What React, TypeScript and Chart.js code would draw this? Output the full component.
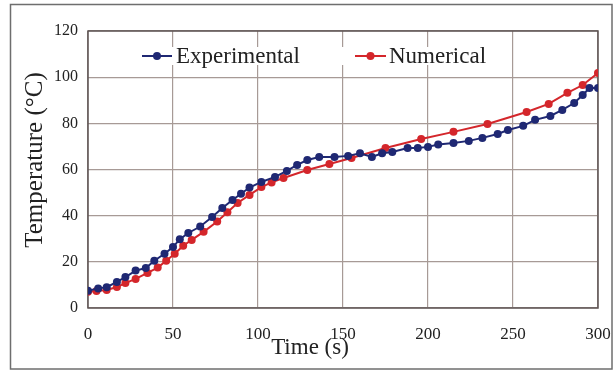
import React, { useEffect, useRef } from "react";
import { Chart, registerables } from "chart.js";

Chart.register(...registerables);

const expTime = [0, 6, 11, 17, 22, 28, 34, 39, 45, 50, 54, 59, 66, 73, 79, 85, 90, 95, 102, 110, 117, 123, 129, 136, 145, 153, 160, 167, 173, 179, 188, 194, 200, 206, 215, 224, 232, 241, 247, 256, 263, 272, 279, 286, 291, 295, 300];
const expTemp = [7.5, 8.5, 9, 11.3, 13.4, 16.2, 17.3, 20.5, 23.5, 26.4, 29.8, 32.5, 35.3, 39.4, 43.3, 46.8, 49.5, 52.2, 54.6, 56.8, 59.4, 62, 64.1, 65.4, 65.4, 65.9, 67, 65.4, 67, 67.6, 69.3, 69.3, 69.8, 70.8, 71.5, 72.4, 73.7, 75.4, 77.1, 78.9, 81.5, 83.2, 85.8, 88.8, 92.3, 95.3, 95.3];

const numTime = [0, 5, 11, 17, 22, 28, 35, 41, 46, 51, 56, 61, 68, 76, 82, 88, 95, 102, 108, 115, 129, 142, 155, 175, 196, 215, 235, 258, 271, 282, 291, 300];
const numTemp = [7, 7.4, 7.8, 9.1, 10.8, 12.6, 15.2, 17.5, 20.5, 23.5, 27, 29.5, 33, 37.5, 41.5, 45.5, 49, 52.4, 54.4, 56.3, 59.8, 62.4, 65, 69.3, 73.2, 76.3, 79.7, 84.9, 88.4, 93.2, 96.6, 101.8];

const xTickValues = [0, 50, 100, 150, 200, 250, 300];
const yTickValues = [0, 20, 40, 60, 80, 100, 120];

const seriesNames = ["Experimental", "Numerical"];
const xTitle = "Time (s)";
const yTitle = "Temperature (\u00B0C)";

const BLUE = "#1f2873";
const RED = "#d4262b";
const SERIF = "'Liberation Serif', 'Times New Roman', serif";

export default function App() {
  const ref = useRef<HTMLCanvasElement | null>(null);

  useEffect(() => {
    document.body.style.margin = "0";
    const canvas = ref.current;
    if (!canvas) return;

    const decor = {
      id: "decor",
      beforeDraw(chart: any) {
        const ctx = chart.ctx;
        ctx.save();
        ctx.fillStyle = "#ffffff";
        ctx.fillRect(0, 0, chart.width, chart.height);
        ctx.strokeStyle = "#6e6e6e";
        ctx.lineWidth = 1.5;
        ctx.strokeRect(10.5, 4.5, 601.5, 364.5);
        ctx.restore();
      },
      beforeDatasetsDraw(chart: any) {
        const ctx = chart.ctx;
        const a = chart.chartArea;
        ctx.save();
        ctx.fillStyle = "#ffffff";
        ctx.fillRect(128, 47, 372, 18);
        ctx.strokeStyle = "#5e5454";
        ctx.lineWidth = 1.5;
        ctx.strokeRect(a.left, a.top, a.right - a.left, a.bottom - a.top);
        ctx.restore();
      },
      afterDraw(chart: any) {
        const ctx = chart.ctx;
        ctx.save();
        const items = [
          { name: seriesNames[0], color: BLUE, x0: 142, x1: 172, tx: 176 },
          { name: seriesNames[1], color: RED, x0: 355, x1: 386, tx: 389 },
        ];
        const ly = 56;
        for (const it of items) {
          ctx.strokeStyle = it.color;
          ctx.lineWidth = 2;
          ctx.beginPath();
          ctx.moveTo(it.x0, ly);
          ctx.lineTo(it.x1, ly);
          ctx.stroke();
          ctx.fillStyle = it.color;
          ctx.beginPath();
          ctx.arc((it.x0 + it.x1) / 2, ly, 4, 0, Math.PI * 2);
          ctx.fill();
          ctx.fillStyle = "#222";
          ctx.font = `23px ${SERIF}`;
          ctx.textBaseline = "alphabetic";
          ctx.textAlign = "left";
          ctx.fillText(it.name, it.tx, 63);
        }
        ctx.fillStyle = "#222";
        ctx.font = `23px ${SERIF}`;
        ctx.textAlign = "center";
        ctx.textBaseline = "alphabetic";
        ctx.fillText(xTitle, 310, 354);
        ctx.translate(42, 160);
        ctx.rotate(-Math.PI / 2);
        ctx.font = `25px ${SERIF}`;
        ctx.fillText(yTitle, 0, 0);
        ctx.restore();
      },
    };

    const chart = new Chart(canvas, {
      type: "line",
      data: {
        datasets: [
          {
            label: seriesNames[0],
            data: expTime.map((t, i) => ({ x: t, y: expTemp[i] })),
            borderColor: BLUE,
            backgroundColor: BLUE,
            borderWidth: 2,
            pointRadius: 4,
            pointHoverRadius: 4,
            pointBorderWidth: 0,
            tension: 0,
          },
          {
            label: seriesNames[1],
            data: numTime.map((t, i) => ({ x: t, y: numTemp[i] })),
            borderColor: RED,
            backgroundColor: RED,
            borderWidth: 2,
            pointRadius: 4,
            pointHoverRadius: 4,
            pointBorderWidth: 0,
            tension: 0,
          },
        ],
      },
      options: {
        responsive: false,
        animation: false,
        events: [],
        layout: { padding: { left: 0, right: 17, top: 31, bottom: 0 } },
        plugins: {
          legend: { display: false },
          title: { display: false },
          tooltip: { enabled: false },
        },
        scales: {
          x: {
            type: "linear",
            min: 0,
            max: 300,
            afterBuildTicks(scale: any) {
              scale.ticks = xTickValues.map((v) => ({ value: v }));
            },
            afterFit(scale: any) {
              scale.height = 63;
              scale.paddingLeft = 0;
              scale.paddingRight = 0;
            },
            grid: { color: "#a79a96", lineWidth: 1.2, drawTicks: false },
            border: { display: false },
            ticks: {
              padding: 16,
              color: "#222",
              font: { family: SERIF, size: 17 },
              maxRotation: 0,
            },
          },
          y: {
            type: "linear",
            min: 0,
            max: 120,
            afterBuildTicks(scale: any) {
              scale.ticks = yTickValues.map((v) => ({ value: v }));
            },
            afterFit(scale: any) {
              scale.width = 88;
              scale.paddingTop = 0;
              scale.paddingBottom = 0;
            },
            grid: { color: "#a79a96", lineWidth: 1.2, drawTicks: false },
            border: { display: false },
            ticks: {
              padding: 10,
              color: "#222",
              font: { family: SERIF, size: 16 },
            },
          },
        },
      },
      plugins: [decor],
    });

    return () => chart.destroy();
  }, []);

  return (
    <div style={{ position: "absolute", left: 0, top: 0, width: 615, height: 371 }}>
      <canvas ref={ref} width={615} height={371} style={{ width: 615, height: 371 }} />
    </div>
  );
}
